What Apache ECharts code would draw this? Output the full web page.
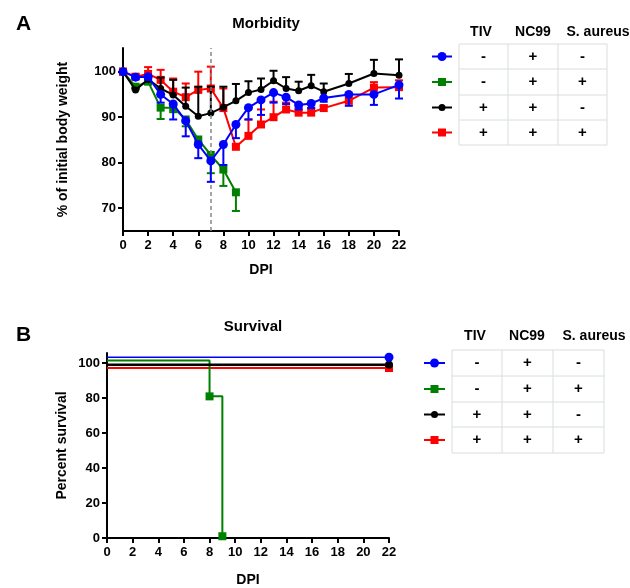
<!DOCTYPE html>
<html>
<head>
<meta charset="utf-8">
<script src="https://cdn.jsdelivr.net/npm/echarts@6/dist/echarts.min.js"></script>
<style>html,body{margin:0;padding:0;background:#fff}#c{width:630px;height:588px}</style>
</head>
<body>
<div id="c"></div>
<script>
// ---------- Data ----------
const days = [0,1,2,3,4,5,6,7,8,9,10,11,12,13,14,15,16,18,20,22];
const greenDays = [0,1,2,3,4,5,6,7,8,9];

const blueWeight  = [100,98.8,98.9,95.0,92.9,89.2,84.0,80.4,84.0,88.4,92.1,93.8,95.4,94.4,92.7,93.0,94.2,95.0,95.0,97.1];
const blueErr     = [0,0.4,0.6,1.8,3.4,3.4,3.0,4.6,4.5,3.0,2.6,3.3,2.2,1.5,1.0,1.0,0.8,2.5,2.3,3.0];   // drawn downward
const greenWeight = [100,96.7,97.8,92.1,92.1,89.5,85.1,81.7,78.5,73.5];
const greenErr    = [0,0.5,0.5,2.5,1.0,1.5,1.0,4.0,3.6,4.1];                                          // drawn downward
const blackWeight = [100,96.0,98.3,96.3,94.9,92.4,90.2,90.9,92.2,93.6,95.4,96.1,98.0,96.3,95.8,96.9,95.6,97.4,99.6,99.2];
const blackErr    = [0,0.4,0.5,2.4,3.3,4.1,6.5,5.8,4.5,3.7,2.5,2.4,2.2,2.5,2.0,2.4,1.8,2.1,3.0,3.5]; // drawn upward
const redWeight   = [100,98.9,99.5,98.2,95.6,94.4,96.0,96.3,92.0,83.5,85.9,88.4,90.0,91.7,91.0,91.0,92.0,93.6,96.5,96.6];
const redErr      = [0,0.5,1.5,2.2,2.9,3.0,4.0,4.8,4.3,0.5,3.6,3.3,3.4,1.5,1.0,1.0,0.5,1.5,1.2,1.5];   // drawn upward

const xTicks = [0,2,4,6,8,10,12,14,16,18,20,22];
const weightTicks = [70,80,90,100];
const survTicks = [0,20,40,60,80,100];
const challengeDay = 7;

// survival curves (as plotted, lines nudged apart by the original)
const blueSurvX  = [0,22],   blueSurv  = [103.4,103.4];
const greenSurvX = [0,8,9],  greenSurv = [101.5,81,1];
const blackSurvX = [0,22],   blackSurv = [99.1,99.1];
const redSurvX   = [0,22],   redSurv   = [97.2,97.2];

const groupColors  = ['#0000ff','#008000','#000000','#ff0000'];
const groupSymbols = ['circle','rect','circle','rect'];
const tableHeaders = ['TIV','NC99','S. aureus'];
const tivSigns     = ['-','-','+','+'];
const nc99Signs    = ['+','+','+','+'];
const saureusSigns = ['-','+','-','+'];

// ---------- Build ----------
const FONT = '"Liberation Sans", Arial, sans-serif';
const pair = (xs, ys) => xs.map((x,i)=>[x, ys[i]]);
function errData(xs, ys, es, dir){ return xs.map((x,i)=>[x, ys[i], ys[i] + dir*es[i]]); }

function errSeries(name, xs, ys, es, dir, color, z, xi, yi){
  return {
    type:'custom', name, xAxisIndex:xi, yAxisIndex:yi, z, silent:true,
    data: errData(xs, ys, es, dir),
    renderItem(params, api){
      const p1 = api.coord([api.value(0), api.value(1)]);
      const p2 = api.coord([api.value(0), api.value(2)]);
      if (Math.abs(p1[1]-p2[1]) < 0.5) return null;
      const st = {stroke: color, lineWidth: 2};
      return {type:'group', children:[
        {type:'line', shape:{x1:p1[0],y1:p1[1],x2:p2[0],y2:p2[1]}, style:st},
        {type:'line', shape:{x1:p2[0]-4,y1:p2[1],x2:p2[0]+4,y2:p2[1]}, style:st}
      ]};
    }
  };
}
function lineSeries(name, xs, ys, color, symbol, size, z, xi, yi, extra){
  return Object.assign({
    type:'line', name, xAxisIndex:xi, yAxisIndex:yi, z,
    data: pair(xs, ys), symbol, symbolSize:size, showSymbol:true,
    lineStyle:{color, width:2}, itemStyle:{color, borderWidth:0}, animation:false
  }, extra||{});
}

const axisLineStyle = {show:true, lineStyle:{color:'#000', width:2}};
const tickStyle = {show:true, length:5, lineStyle:{color:'#000', width:2}};
const labelStyle = {color:'#000', fontWeight:'bold', fontSize:13, fontFamily:FONT};
const nameStyle = {color:'#000', fontWeight:'bold', fontSize:14, fontFamily:FONT};

function survSeries(name, xs, ys, color, symbol, size, markIdx, z, width){
  return {
    type:'line', name, xAxisIndex:1, yAxisIndex:1, z, step:'end', animation:false,
    data: xs.map((x,i)=>({value:[x, ys[i]], symbol: markIdx.includes(i) ? symbol : 'none', symbolSize:size})),
    lineStyle:{color, width}, itemStyle:{color}
  };
}

// legend tables
function table(left, cols, right, rows, headerY, headerX, symX0, symX1){
  const els = [];
  const xs = [left].concat(cols, [right]);
  const border = {stroke:'#d9dede', lineWidth:1};
  rows.forEach(y=>els.push({type:'line', shape:{x1:left,y1:y,x2:right,y2:y}, style:border}));
  xs.forEach(x=>els.push({type:'line', shape:{x1:x,y1:rows[0],x2:x,y2:rows[rows.length-1]}, style:border}));
  const centers = [(xs[0]+xs[1])/2, (xs[1]+xs[2])/2, (xs[2]+xs[3])/2];
  tableHeaders.forEach((h,i)=>els.push({type:'text', style:{text:h, x:headerX[i], y:headerY, align:'center', verticalAlign:'middle', fill:'#000', font:'bold 14px '+FONT}}));
  const signs = [tivSigns, nc99Signs, saureusSigns];
  for (let r=0;r<4;r++){
    const cy = (rows[r]+rows[r+1])/2;
    signs.forEach((col,ci)=>els.push({type:'text', style:{text:col[r], x:centers[ci], y:cy, align:'center', verticalAlign:'middle', fill:'#000', font:'bold 15px '+FONT}}));
    const c = groupColors[r], mx = (symX0+symX1)/2;
    els.push({type:'line', shape:{x1:symX0,y1:cy,x2:symX1,y2:cy}, style:{stroke:c, lineWidth:2}});
    if (groupSymbols[r]==='circle') els.push({type:'circle', shape:{cx:mx, cy, r: r===2?3.5:4.5}, style:{fill:c}});
    else els.push({type:'rect', shape:{x:mx-4, y:cy-4, width:8, height:8}, style:{fill:c}});
  }
  return els;
}

const option = {
  backgroundColor:'#fff',
  animation:false,
  title:[
    {text:'Morbidity', left:261, top:11, textAlign:'center', textStyle:{fontSize:15, fontWeight:'bold', fontFamily:FONT, color:'#000'}},
    {text:'Survival', left:248, top:314, textAlign:'center', textStyle:{fontSize:15, fontWeight:'bold', fontFamily:FONT, color:'#000'}},
    {text:'A', left:11, top:9, textStyle:{fontSize:21, fontWeight:'bold', fontFamily:FONT, color:'#000'}},
    {text:'B', left:11, top:320, textStyle:{fontSize:21, fontWeight:'bold', fontFamily:FONT, color:'#000'}}
  ],
  grid:[
    {left:123, top:48, width:276, height:183},
    {left:107, top:353, width:282, height:188}
  ],
  xAxis:[
    {type:'value', gridIndex:0, min:0, max:22, interval:2, name:'DPI', nameLocation:'middle', nameGap:32, nameTextStyle:nameStyle,
     axisLine:axisLineStyle, axisTick:tickStyle, axisLabel:Object.assign({margin:8}, labelStyle), splitLine:{show:false}},
    {type:'value', gridIndex:1, min:0, max:22, interval:2, name:'DPI', nameLocation:'middle', nameGap:35, nameTextStyle:nameStyle,
     axisLine:axisLineStyle, axisTick:tickStyle, axisLabel:Object.assign({margin:8}, labelStyle), splitLine:{show:false}}
  ],
  yAxis:[
    {type:'value', gridIndex:0, min:65, max:105.2, name:'% of initial body weight', nameLocation:'middle', nameGap:53, nameTextStyle:nameStyle,
     axisLine:axisLineStyle, axisTick:Object.assign({customValues:weightTicks}, tickStyle),
     axisLabel:Object.assign({customValues:weightTicks, margin:7}, labelStyle), splitLine:{show:false}},
    {type:'value', gridIndex:1, min:0, max:105.8, name:'Percent survival', nameLocation:'middle', nameGap:38, nameTextStyle:nameStyle,
     axisLine:axisLineStyle, axisTick:Object.assign({customValues:survTicks}, tickStyle),
     axisLabel:Object.assign({customValues:survTicks, margin:7}, labelStyle), splitLine:{show:false}}
  ],
  series:[
    errSeries('green err', greenDays, greenWeight, greenErr, -1, groupColors[1], 2, 0, 0),
    lineSeries('green', greenDays, greenWeight, groupColors[1], 'rect', 8, 2, 0, 0),
    errSeries('red err', days, redWeight, redErr, 1, groupColors[3], 3, 0, 0),
    lineSeries('red', days, redWeight, groupColors[3], 'rect', 8, 3, 0, 0),
    errSeries('black err', days, blackWeight, blackErr, 1, groupColors[2], 4, 0, 0),
    lineSeries('black', days, blackWeight, groupColors[2], 'circle', 7, 4, 0, 0),
    errSeries('blue err', days, blueWeight, blueErr, -1, groupColors[0], 5, 0, 0),
    lineSeries('blue', days, blueWeight, groupColors[0], 'circle', 9, 5, 0, 0, {
      markLine:{silent:true, symbol:'none', label:{show:false}, animation:false,
        lineStyle:{color:'#888', width:1.5, type:[4,3]}, data:[{xAxis:challengeDay}]}
    }),
    survSeries('green surv', greenSurvX, greenSurv, groupColors[1], 'rect', 8, [1,2], 3, 2),
    survSeries('red surv', redSurvX, redSurv, groupColors[3], 'rect', 8, [1], 2, 2),
    survSeries('black surv', blackSurvX, blackSurv, groupColors[2], 'circle', 8, [1], 4, 2.5),
    survSeries('blue surv', blueSurvX, blueSurv, groupColors[0], 'circle', 9, [1], 5, 1.5)
  ],
  graphic: table(459, [508,558], 607, [44,69,95,120,145], 32, [481,533,598], 432, 452)
           .concat(table(452, [502,553], 604, [350,376,402,427,453], 336, [475,527,594], 424, 445))
};

const chart = echarts.init(document.getElementById('c'), null, {renderer:'canvas'});
chart.setOption(option);
</script>
</body>
</html>
